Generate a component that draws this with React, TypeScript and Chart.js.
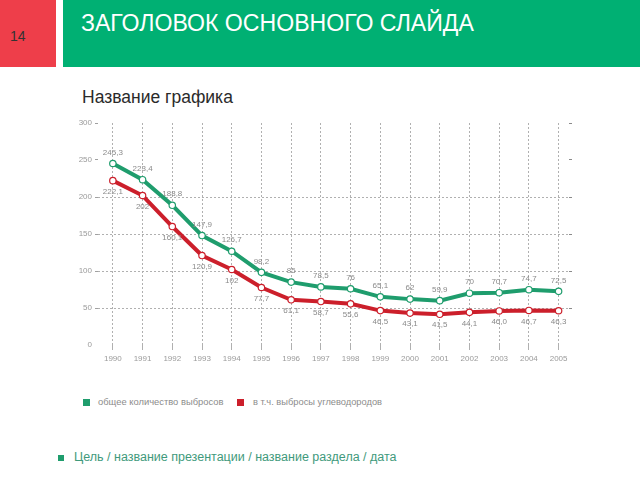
import React, { useEffect, useRef } from "react";
import { Chart, registerables } from "chart.js";

Chart.register(...registerables);

const years = [1990, 1991, 1992, 1993, 1994, 1995, 1996, 1997, 1998, 1999, 2000, 2001, 2002, 2003, 2004, 2005];
const totalEmissions = [245.3, 223.4, 188.8, 147.9, 126.7, 98.2, 85, 78.5, 76, 65.1, 62, 59.9, 70, 70.7, 74.7, 72.5];
const hydrocarbonEmissions = [222.1, 202, 160.1, 120.9, 102, 77.7, 61.1, 58.7, 55.6, 46.5, 43.1, 41.5, 44.1, 46.0, 46.7, 46.3];
const totalLabels = ["245,3", "223,4", "188,8", "147,9", "126,7", "98,2", "85", "78,5", "76", "65,1", "62", "59,9", "70", "70,7", "74,7", "72,5"];
const hydrocarbonLabels = ["222,1", "202", "160,1", "120,9", "102", "77,7", "61,1", "58,7", "55,6", "46,5", "43,1", "41,5", "44,1", "46,0", "46,7", "46,3"];
const yTicks = [0, 50, 100, 150, 200, 250, 300];
const seriesNames = ["общее количество выбросов", "в т.ч. выбросы углеводородов"];

const GREEN = "#1f9d6d";
const RED = "#cc1f2b";
const FONT = "'Liberation Sans', Arial, sans-serif";

const labelPlugin = {
  id: "valueLabels",
  afterDatasetsDraw(chart: any) {
    const ctx = chart.ctx;
    ctx.save();
    ctx.font = `8px ${FONT}`;
    ctx.fillStyle = "#8a8a8a";
    ctx.textAlign = "center";
    chart.data.datasets.forEach((ds: any, di: number) => {
      const meta = chart.getDatasetMeta(di);
      const labels = di === 0 ? totalLabels : hydrocarbonLabels;
      meta.data.forEach((pt: any, i: number) => {
        if (di === 0) {
          ctx.textBaseline = "bottom";
          ctx.fillText(labels[i], pt.x, pt.y - 7);
        } else {
          ctx.textBaseline = "top";
          ctx.fillText(labels[i], pt.x, pt.y + 7);
        }
      });
    });
    ctx.restore();
  },
};

function LineChart() {
  const ref = useRef<HTMLCanvasElement>(null);
  useEffect(() => {
    if (!ref.current) return;
    const chart = new Chart(ref.current, {
      type: "line",
      data: {
        datasets: [
          {
            label: seriesNames[0],
            data: years.map((y, i) => ({ x: y, y: totalEmissions[i] })),
            borderColor: GREEN,
            backgroundColor: "#ffffff",
            borderWidth: 4,
            pointRadius: 3.2,
            pointBorderWidth: 1.2,
            pointBorderColor: GREEN,
            pointBackgroundColor: "#ffffff",
            tension: 0,
          },
          {
            label: seriesNames[1],
            data: years.map((y, i) => ({ x: y, y: hydrocarbonEmissions[i] })),
            borderColor: RED,
            backgroundColor: "#ffffff",
            borderWidth: 4,
            pointRadius: 3.2,
            pointBorderWidth: 1.2,
            pointBorderColor: RED,
            pointBackgroundColor: "#ffffff",
            tension: 0,
          },
        ],
      },
      options: {
        animation: false,
        responsive: false,
        maintainAspectRatio: false,
        layout: { padding: { top: 13, left: 0, right: 0, bottom: 0 } },
        plugins: { legend: { display: false }, tooltip: { enabled: false } },
        scales: {
          x: {
            type: "linear",
            min: 1989.5,
            max: 2005.35,
            afterBuildTicks: (axis: any) => {
              axis.ticks = years.map((y) => ({ value: y }));
            },
            afterFit: (axis: any) => {
              axis.height = 35;
            },
            border: { display: false, dash: [2, 2] },
            grid: {
              color: "#b0b0b0",
              lineWidth: 1,
              tickLength: 5,
              drawTicks: true,
            },
            ticks: {
              font: { family: FONT, size: 8 },
              color: "#9a9a9a",
              padding: 4,
              callback: (v: any) => String(v),
              maxRotation: 0,
              autoSkip: false,
            },
          },
          y: {
            type: "linear",
            position: "left",
            min: 0,
            max: 300,
            afterBuildTicks: (axis: any) => {
              axis.ticks = yTicks.map((v) => ({ value: v }));
            },
            afterFit: (axis: any) => {
              axis.width = 38;
            },
            border: { display: false, dash: [2, 2] },
            grid: {
              color: (c: any) =>
                c.tick && c.tick.value >= 50 && c.tick.value <= 200 ? "#b0b0b0" : "rgba(0,0,0,0)",
              tickColor: (c: any) => (c.tick && c.tick.value > 0 ? "#a0a0a0" : "rgba(0,0,0,0)"),
              tickLength: 3,
              lineWidth: 1,
            },
            ticks: {
              font: { family: FONT, size: 8 },
              color: "#9a9a9a",
              padding: 3,
            },
          },
          yRight: {
            type: "linear",
            position: "right",
            min: 0,
            max: 300,
            afterBuildTicks: (axis: any) => {
              axis.ticks = yTicks.map((v) => ({ value: v }));
            },
            afterFit: (axis: any) => {
              axis.width = 11;
            },
            border: { display: false },
            grid: {
              drawOnChartArea: false,
              tickColor: (c: any) => (c.tick && c.tick.value > 0 ? "#8a8a8a" : "rgba(0,0,0,0)"),
              tickLength: 3,
            },
            ticks: { display: false },
          },
        },
      },
      plugins: [labelPlugin],
    } as any);
    return () => chart.destroy();
  }, []);
  return <canvas ref={ref} width={520} height={270} style={{ width: 520, height: 270, display: "block" }} />;
}

export default function App() {
  const abs = (s: React.CSSProperties): React.CSSProperties => ({ position: "absolute", ...s });
  return (
    <div style={{ position: "fixed", left: 0, top: 0, width: 640, height: 480, background: "#ffffff", fontFamily: FONT, overflow: "hidden" }}>
      <div style={abs({ left: 0, top: 0, width: 56, height: 67, background: "#ee3e4a" })} />
      <div style={abs({ left: 63, top: 0, width: 577, height: 67, background: "#00b073" })} />
      <div style={abs({ left: 10, top: 27, fontSize: 14, color: "#333333", lineHeight: "18px" })}>14</div>
      <div style={abs({ left: 81, top: 8, fontSize: 23.1, color: "#ffffff", lineHeight: "30px", whiteSpace: "nowrap" })}>
        ЗАГОЛОВОК ОСНОВНОГО СЛАЙДА
      </div>
      <div style={abs({ left: 82, top: 86, fontSize: 17.5, color: "#2a2a2a", lineHeight: "22px", whiteSpace: "nowrap" })}>
        Название графика
      </div>
      <div style={abs({ left: 60, top: 110 })}>
        <LineChart />
      </div>
      <div style={abs({ left: 83, top: 399, width: 7, height: 7, background: GREEN })} />
      <div style={abs({ left: 98, top: 396, fontSize: 9.4, color: "#8c8c8c", lineHeight: "12px", whiteSpace: "nowrap" })}>
        {seriesNames[0]}
      </div>
      <div style={abs({ left: 237, top: 399, width: 7, height: 7, background: RED })} />
      <div style={abs({ left: 253, top: 396, fontSize: 9.3, color: "#8c8c8c", lineHeight: "12px", whiteSpace: "nowrap" })}>
        {seriesNames[1]}
      </div>
      <div style={abs({ left: 58, top: 455, width: 6, height: 6, background: "#1f9d6d" })} />
      <div style={abs({ left: 74, top: 449, fontSize: 12.5, color: "#3f9a7c", lineHeight: "16px", whiteSpace: "nowrap" })}>
        Цель / название презентации / название раздела / дата
      </div>
    </div>
  );
}
